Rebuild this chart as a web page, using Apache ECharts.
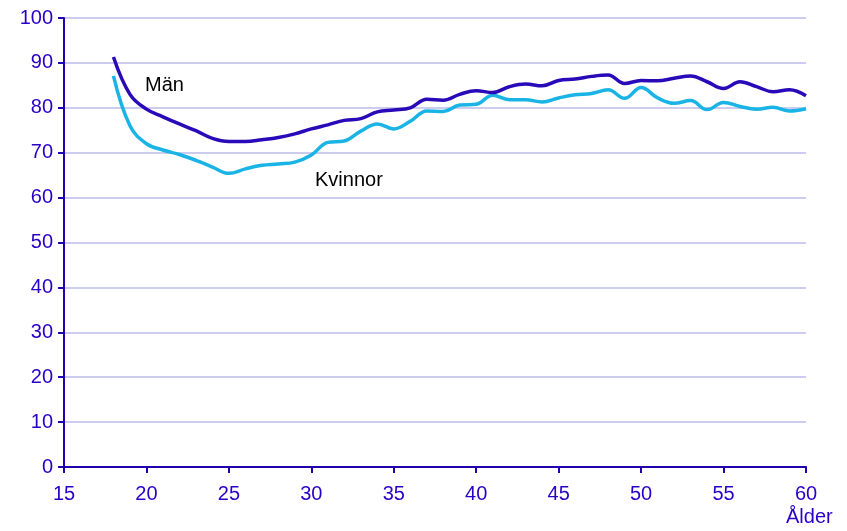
<!DOCTYPE html>
<html>
<head>
<meta charset="utf-8">
<script src="https://cdn.jsdelivr.net/npm/echarts@6/dist/echarts.min.js"></script>
<style>
  html, body { margin: 0; padding: 0; background: #fff; }
  #chart { width: 847px; height: 531px; }
</style>
</head>
<body>
<div id="chart"></div>
<script>
// Ålder 18..60
const ages = [];
for (let a = 18; a <= 60; a++) ages.push(a);

// Män
const man = [91.3, 83.0, 79.7, 78.0, 76.4, 74.9, 73.2, 72.5, 72.5, 72.9,
  73.4, 74.2, 75.3, 76.2, 77.2, 77.6, 79.1, 79.5, 80.0, 81.9,
  81.7, 83.0, 83.8, 83.4, 84.7, 85.3, 84.9, 86.1, 86.4, 87.0,
  87.3, 85.4, 86.1, 86.0, 86.6, 87.1, 85.8, 84.3, 85.8, 84.7,
  83.6, 84.0, 82.7];

// Kvinnor
const kvinnor = [87.1, 76.0, 72.0, 70.6, 69.6, 68.3, 66.8, 65.4, 66.4, 67.2,
  67.5, 67.9, 69.5, 72.3, 72.6, 74.8, 76.4, 75.3, 77.0, 79.3,
  79.2, 80.6, 80.8, 82.8, 81.8, 81.8, 81.3, 82.2, 82.9, 83.2,
  84.0, 82.1, 84.5, 82.2, 81.0, 81.6, 79.6, 81.2, 80.3, 79.7,
  80.1, 79.3, 79.8];

const axisBlue = '#2200b0';
const labelBlue = '#2a00c8';
const font = 'Liberation Sans, Arial, sans-serif';

const chart = echarts.init(document.getElementById('chart'));

chart.setOption({
  animation: false,
  grid: { left: 64, right: 41, top: 18, bottom: 64, containLabel: false },
  xAxis: {
    type: 'value',
    min: 15,
    max: 60,
    interval: 5,
    axisLine: { lineStyle: { color: axisBlue, width: 2 } },
    axisTick: { show: true, length: 6, lineStyle: { color: axisBlue, width: 2 } },
    axisLabel: { color: labelBlue, fontSize: 20, fontFamily: font, margin: 17 },
    splitLine: { show: false }
  },
  yAxis: {
    type: 'value',
    min: 0,
    max: 100,
    interval: 10,
    axisLine: { show: true, lineStyle: { color: axisBlue, width: 2 } },
    axisTick: { show: true, length: 6, lineStyle: { color: axisBlue, width: 2 } },
    axisLabel: { color: labelBlue, fontSize: 20, fontFamily: font, margin: 11 },
    splitLine: { show: true, lineStyle: { color: '#ccccee', width: 2 } }
  },
  graphic: [
    { type: 'text', left: 145, top: 75, style: { text: 'Män', fontSize: 20, fontFamily: font, fill: '#000' } },
    { type: 'text', left: 315, top: 170, style: { text: 'Kvinnor', fontSize: 20, fontFamily: font, fill: '#000' } },
    { type: 'text', left: 786, top: 507, style: { text: 'Ålder', fontSize: 20, fontFamily: font, fill: labelBlue } }
  ],
  series: [
    {
      name: 'Män',
      type: 'line',
      data: ages.map((a, i) => [a, man[i]]),
      smooth: 0.4,
      showSymbol: false,
      lineStyle: { color: '#2a0ab8', width: 3.5 },
      z: 3
    },
    {
      name: 'Kvinnor',
      type: 'line',
      data: ages.map((a, i) => [a, kvinnor[i]]),
      smooth: 0.4,
      showSymbol: false,
      lineStyle: { color: '#19b4e5', width: 3.5 },
      z: 2
    }
  ]
});
</script>
</body>
</html>
